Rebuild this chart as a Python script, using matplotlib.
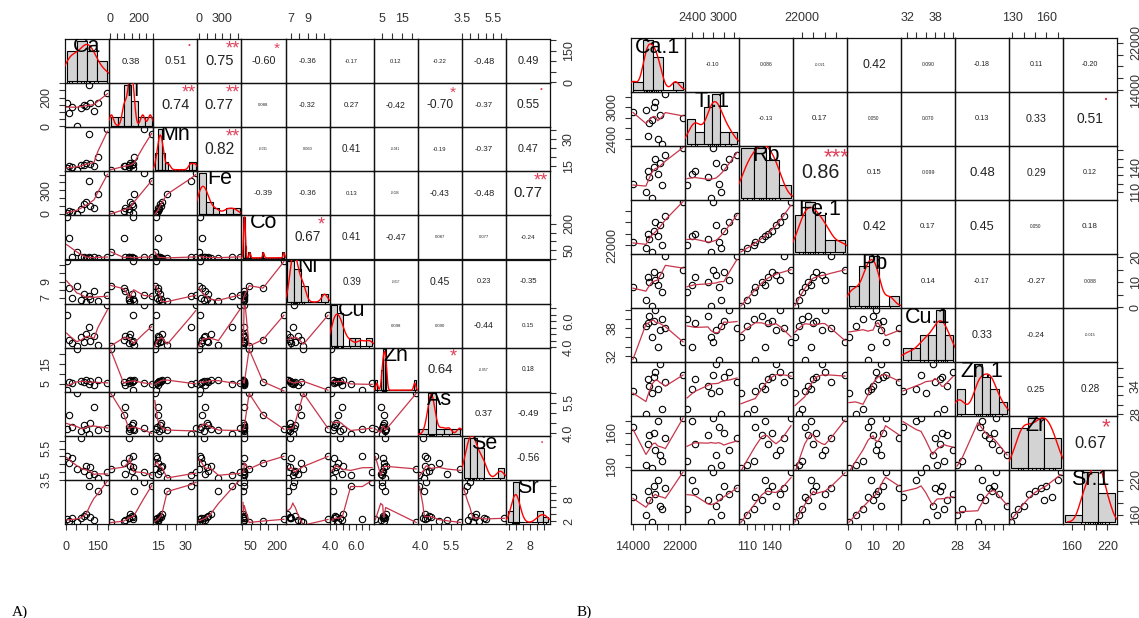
import numpy as np
import matplotlib
matplotlib.use("Agg")
import matplotlib.pyplot as plt

plt.rcParams['font.family'] = ['Liberation Sans', 'DejaVu Sans']

# ---------- panel A : 11 elements, 12 samples ----------
a_names = ["Ca", "Ti", "Mn", "Fe", "Co", "Ni", "Cu", "Zn", "As", "Se", "Sr"]
a_ca = [4, 14, 28, 52, 72, 86, 96, 108, 116, 134, 152, 198]
a_ti = [160, 95, 135, 5, 130, 150, 140, 290, 160, 105, 165, 235]
a_mn = [14.0, 15.0, 14.5, 13.2, 15.5, 16.0, 17.0, 33.0, 16.5, 15.0, 20.0, 35.6]
a_fe = [10, 40, 30, 2, 60, 120, 150, 420, 100, 80, 250, 520]
a_co = [240, 120, 12, 40, 8, 10, 7, 9, 6, 8, 5, 11]
a_ni = [11.5, 8.2, 7.0, 8.5, 6.8, 7.5, 6.5, 7.2, 6.9, 7.8, 6.6, 7.3]
a_cu = [6.5, 4.6, 4.3, 4.1, 4.8, 4.4, 5.0, 5.6, 4.5, 4.9, 4.2, 7.25]
a_zn = [1.8, 6.0, 5.5, 22.2, 6.5, 5.8, 7.0, 5.0, 6.2, 4.5, 6.8, 5.2]
a_as = [4.2, 4.9, 4.3, 5.97, 4.1, 4.4, 4.2, 3.93, 4.5, 5.3, 4.15, 4.25]
a_se = [5.0, 4.6, 4.9, 4.2, 6.2, 4.1, 4.4, 3.8, 4.3, 3.9, 3.6, 4.0]
a_sr = [2.5, 2.0, 3.0, 1.6, 2.8, 3.5, 4.0, 12.0, 3.2, 2.2, 10.5, 13.2]
a_data = [a_ca, a_ti, a_mn, a_fe, a_co, a_ni, a_cu, a_zn, a_as, a_se, a_sr]

# upper triangle, row by row (as printed in the picture)
a_cor = [
    ["0.38", "0.51", "0.75", "-0.60", "-0.36", "-0.17", "0.12", "-0.22", "-0.48", "0.49"],
    ["0.74", "0.77", "0.088", "-0.32", "0.27", "-0.42", "-0.70", "-0.37", "0.55"],
    ["0.82", "-0.031", "0.060", "0.41", "-0.041", "-0.19", "-0.37", "0.47"],
    ["-0.39", "-0.36", "0.13", "-0.026", "-0.43", "-0.48", "0.77"],
    ["0.67", "0.41", "-0.47", "0.087", "0.077", "-0.24"],
    ["0.39", "-0.017", "0.45", "0.23", "-0.35"],
    ["0.098", "0.090", "-0.44", "0.15"],
    ["0.64", "-0.057", "0.18"],
    ["0.37", "-0.49"],
    ["-0.56"],
]
a_sig = [
    ["", ".", "**", "*", "", "", "", "", "", ""],
    ["**", "**", "", "", "", "", "*", "", "."],
    ["**", "", "", "", "", "", "", ""],
    ["", "", "", "", "", "", "**"],
    ["*", "", "", "", "", ""],
    ["", "", "", "", ""],
    ["", "", "", ""],
    ["*", "", ""],
    ["", ""],
    ["."],
]
# (tick step, labelled ticks)
a_ticks = [(50, ["0", "150"]), (50, ["0", "200"]), (5, ["15", "30"]),
           (100, ["0", "300"]), (50, ["50", "200"]), (1, ["7", "9"]),
           (0.5, ["4.0", "6.0"]), (5, ["5", "15"]), (0.5, ["4.0", "5.5"]),
           (0.5, ["3.5", "5.5"]), (2, ["2", "8"])]

# ---------- panel B : 9 elements, 12 samples ----------
b_names = ["Ca.1", "Ti.1", "Rb", "Fe.1", "Pb", "Cu.1", "Zn.1", "Zr", "Sr.1"]
b_ca = [14000, 16200, 16500, 16800, 17200, 17500, 17800, 18200, 18600, 19000, 19500, 22500]
b_ti = [2900, 2950, 2450, 2700, 2750, 3000, 3100, 2400, 2850, 2300, 3250, 2800]
b_rb = [120, 110, 135, 128, 103, 140, 150, 132, 145, 118, 155, 163]
b_fe = [22500, 21500, 24000, 23000, 20800, 24500, 26000, 23500, 25500, 22000, 27000, 29500]
b_pb = [8, 3, 12, 10, 0.4, 14, 11, 9, 13, 6, 20.4, 15]
b_cu = [31.1, 38.5, 39.0, 40.5, 36.0, 39.5, 41.9, 34.0, 37.5, 40.0, 38.0, 35.0]
b_zn = [33, 28, 35.5, 34, 32.5, 36, 37, 33.5, 38.8, 29, 35, 36.5]
b_zr = [165, 132, 150, 158, 129, 160, 145, 170, 140, 135, 155, 173]
b_sr = [190, 160, 200, 185, 148, 210, 195, 220, 175, 170, 205, 233]
b_data = [b_ca, b_ti, b_rb, b_fe, b_pb, b_cu, b_zn, b_zr, b_sr]

b_cor = [
    ["-0.10", "0.086", "-0.021", "0.42", "0.090", "-0.18", "0.11", "-0.20"],
    ["-0.13", "0.17", "0.050", "0.070", "0.13", "0.33", "0.51"],
    ["0.86", "0.15", "0.099", "0.48", "0.29", "0.12"],
    ["0.42", "0.17", "0.45", "0.050", "0.18"],
    ["0.14", "-0.17", "-0.27", "0.088"],
    ["0.33", "-0.24", "-0.015"],
    ["0.25", "0.28"],
    ["0.67"],
]
b_sig = [
    ["", "", "", "", "", "", "", ""],
    ["", "", "", "", "", "", "."],
    ["***", "", "", "", "", ""],
    ["", "", "", "", ""],
    ["", "", "", ""],
    ["", "", ""],
    ["", ""],
    ["*"],
]
b_ticks = [(2000, ["14000", "22000"]), (200, ["2400", "3000"]), (10, ["110", "140"]),
           (2000, ["22000"]), (5, ["0", "10", "20"]), (2, ["32", "38"]),
           (2, ["28", "34"]), (10, ["130", "160"]), (20, ["160", "220"])]

W, H = 1139, 618
fig = plt.figure(figsize=(W / 100, H / 100), dpi=100)

SMOOTH = '#C8354A'
STAR = '#E0405A'
TXT = '#333333'
CHARW = {'.': 0.278, '-': 0.333}


def box(x, y, w, h):
    return [x / W, 1 - (y + h) / H, w / W, h / H]


def padded(v):
    lo, hi = min(v), max(v)
    d = (hi - lo) * 0.04
    return lo - d, hi + d


def lowess(x, y, f=2 / 3, iters=3):
    order = np.argsort(x, kind='stable')
    x = np.asarray(x, float)[order]
    y = np.asarray(y, float)[order]
    n = len(x)
    ns = max(min(int(round(f * n)), n), 2)
    rw = np.ones(n)
    fit = y.copy()
    xr = x.max() - x.min()
    for it in range(iters + 1):
        for i in range(n):
            d = np.abs(x - x[i])
            h = np.sort(d)[ns - 1]
            w = np.zeros(n)
            if h > 0:
                u = d / h
                m = u <= 0.999
                w[m] = (1 - u[m] ** 3) ** 3
                w[u <= 0.001] = 1
            else:
                w[d == 0] = 1
            w *= rw
            if w.sum() <= 0:
                fit[i] = y[i]
                continue
            w = w / w.sum()
            if h > 0:
                a = np.sum(w * x)
                c = np.sum(w * (x - a) ** 2)
                if np.sqrt(c) > 0.001 * xr:
                    b = (x[i] - a) / c
                    w = w * (b * (x - a) + 1)
            fit[i] = np.sum(w * y)
        if it == iters:
            break
        res = y - fit
        cmad = 6 * np.median(np.abs(res))
        if cmad < 1e-7 * np.mean(np.abs(y)):
            break
        r = np.abs(res) / cmad
        rw = np.where(r < 1, (1 - r ** 2) ** 2, 0.0)
    return x, fit


def density(v):
    v = np.asarray(v, float)
    n = len(v)
    q75, q25 = np.percentile(v, [75, 25])
    lo = min(v.std(ddof=1), (q75 - q25) / 1.34)
    if lo <= 0:
        lo = v.std(ddof=1)
    bw = 0.9 * lo * n ** -0.2
    xs = np.linspace(v.min() - 3 * bw, v.max() + 3 * bw, 512)
    ys = np.exp(-0.5 * ((xs[:, None] - v[None, :]) / bw) ** 2).sum(1) / (n * bw * np.sqrt(2 * np.pi))
    return xs, ys


def pretty(lo, hi, n):
    # same unit choice as R's pretty()
    cell = (hi - lo) / n
    U = 10 ** np.floor(np.log10(cell))
    unit = U
    if 2 * U - cell < 1.5 * (cell - unit):
        unit = 2 * U
        if 5 * U - cell < 2.75 * (cell - unit):
            unit = 5 * U
            if 10 * U - cell < 1.5 * (cell - unit):
                unit = 10 * U
    ns = np.floor(lo / unit + 1e-7)
    nu = np.ceil(hi / unit - 1e-7)
    return np.arange(ns, nu + 1) * unit


def fd_breaks(v):
    v = np.asarray(v, float)
    q75, q25 = np.percentile(v, [75, 25])
    h = 2 * (q75 - q25) * len(v) ** (-1 / 3)
    k = max(int(np.ceil((v.max() - v.min()) / h)), 1) if h > 0 else 1
    return pretty(v.min(), v.max(), k)


def hist_counts(v, br):
    # right-closed bins, first one closed on the left too (R default)
    idx = np.searchsorted(br, v, side='left') - 1
    idx = np.clip(idx, 0, len(br) - 2)
    return np.bincount(idx, minlength=len(br) - 1)


def em_width(s):
    return sum(CHARW.get(c, 0.556) for c in s)


def put_axis(ax, side, lim, spec):
    step, labels = spec
    k0 = np.ceil(lim[0] / step - 1e-9)
    k1 = np.floor(lim[1] / step + 1e-9)
    ticks = np.arange(k0, k1 + 1) * step
    texts = []
    for t in ticks:
        s = ""
        for lab in labels:
            if abs(float(lab) - t) < step * 1e-3:
                s = lab
        texts.append(s)
    if side in ("top", "bottom"):
        ax.set_xticks(ticks)
        ax.set_xticklabels(texts)
        ax.tick_params(axis="x", bottom=side == "bottom", top=side == "top",
                       labelbottom=side == "bottom", labeltop=side == "top",
                       direction="out", length=4.3, width=0.8, color=TXT,
                       labelcolor=TXT, labelsize=9, pad=8 if side == "bottom" else 5.5)
        ax.set_xlim(lim)
    else:
        ax.set_yticks(ticks)
        ax.set_yticklabels(texts, rotation=90, va="center")
        ax.tick_params(axis="y", left=side == "left", right=side == "right",
                       labelleft=side == "left", labelright=side == "right",
                       direction="out", length=4.3, width=0.8, color=TXT,
                       labelcolor=TXT, labelsize=9, pad=5)
        ax.set_ylim(lim)


def draw_panel(names, data, cor, sig, ticks, x0, y0, cs):
    n = len(names)
    lims = [padded(v) for v in data]
    for i in range(n):
        for j in range(n):
            ax = fig.add_axes(box(x0 + j * cs, y0 + i * cs, cs, cs))
            ax.set_facecolor('none')
            ax.set_xlim(lims[j])
            ax.set_ylim(lims[i])
            ax.set_xticks([])
            ax.set_yticks([])
            for sp in ax.spines.values():
                sp.set_linewidth(0.9)
                sp.set_color('#111111')
            if i > j:
                ax.plot(data[j], data[i], 'o', mfc='none', mec='black', ms=4.6, mew=0.8)
                lx, ly = lowess(data[j], data[i])
                ax.plot(lx, ly, color=SMOOTH, lw=0.9)
            elif i < j:
                txt = cor[i][j - i - 1]
                r = abs(float(txt))
                full = 0.8 * cs / em_width(txt) * 0.72
                ax.text(0.5, 0.5, txt, transform=ax.transAxes, ha='center', va='center',
                        fontsize=full * (r + 0.3) / 1.3, color='#222222')
                s = sig[i][j - i - 1]
                if s == ".":
                    ax.text(0.8, 0.76, s, transform=ax.transAxes, ha='center', va='bottom',
                            fontsize=full, color=STAR)
                elif s:
                    ax.text(0.8, 0.78, s, transform=ax.transAxes, ha='center', va='center',
                            fontsize=full, color=STAR)
            else:
                hx = fig.add_axes(box(x0 + j * cs, y0 + i * cs, cs, cs))
                hx.set_facecolor('none')
                hx.axis('off')
                v = np.asarray(data[i], float)
                br = fd_breaks(v)
                counts = hist_counts(v, br)
                dens = counts / (len(v) * np.diff(br))
                hx.bar(br[:-1], dens, width=np.diff(br), align='edge',
                       color='#D3D3D3', edgecolor='black', lw=0.8)
                dx, dy = density(v)
                hx.plot(dx, dy, color='red', lw=1.0)
                rng = br[-1] - br[0]
                top = dens.max()
                hx.set_xlim(br[0] - 0.04 * rng, br[-1] + 0.04 * rng)
                hx.set_ylim(-0.04 * top, 1.04 * top)
                y_lo = -0.04 * top
                for xv in v:
                    hx.plot([xv, xv], [y_lo, y_lo + 0.03 * 1.08 * top], color='black', lw=0.8)
                hx.text(0.5, 0.833, names[i], transform=hx.transAxes, ha='center',
                        va='center', fontsize=15.5, color='black', clip_on=True)
            # outer axes, R pairs() style alternation
            if i == 0 and j % 2 == 1:
                put_axis(ax, "top", lims[j], ticks[j])
            if i == n - 1 and j % 2 == 0:
                put_axis(ax, "bottom", lims[j], ticks[j])
            if j == 0 and i % 2 == 1:
                put_axis(ax, "left", lims[i], ticks[i])
            if j == n - 1 and i % 2 == 0:
                put_axis(ax, "right", lims[i], ticks[i])


draw_panel(a_names, a_data, a_cor, a_sig, a_ticks, 65, 39, 44.1)
draw_panel(b_names, b_data, b_cor, b_sig, b_ticks, 631, 38, 54.0)

fig.text(12 / W, 1 - 612 / H, "A)", family='Liberation Serif', fontsize=11,
         ha='left', va='center')
fig.text(577 / W, 1 - 612 / H, "B)", family='Liberation Serif', fontsize=11,
         ha='left', va='center')

fig.savefig("out.png", dpi=100, facecolor='white')
